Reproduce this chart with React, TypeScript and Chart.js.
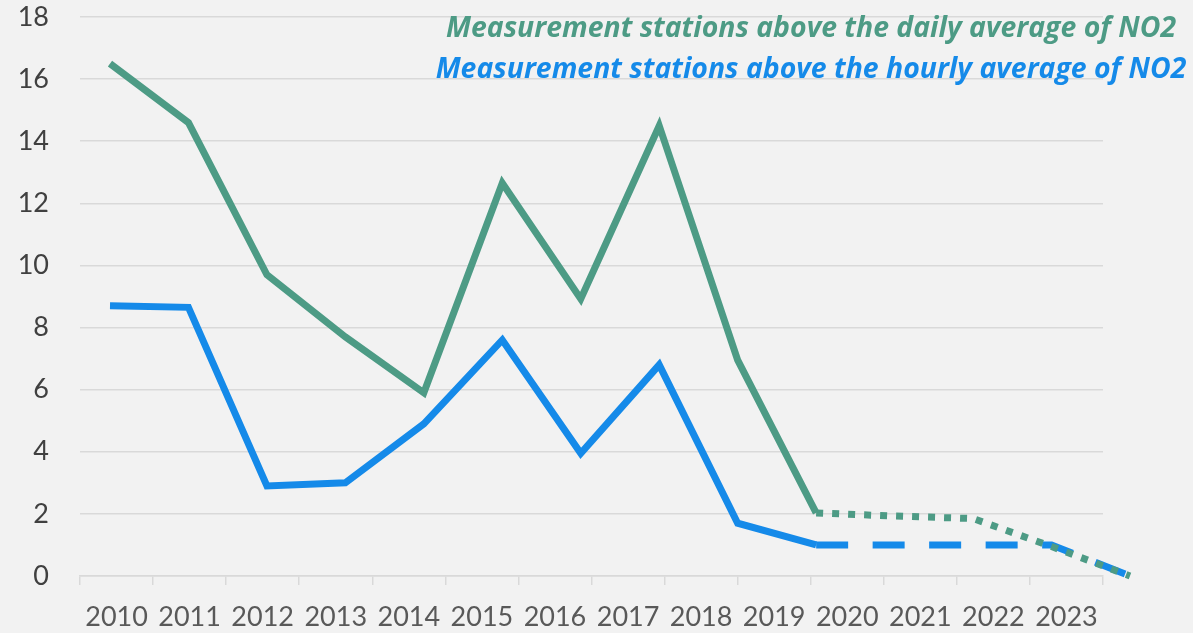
import React, { useEffect, useRef } from "react";
import { Chart, registerables } from "chart.js";

Chart.register(...registerables);

const years = ["2010", "2011", "2012", "2013", "2014", "2015", "2016", "2017", "2018", "2019", "2020", "2021", "2022", "2023"];
const dailyAbove = [16.5, 14.6, 9.7, 7.7, 5.9, 12.65, 8.92, 14.5, 6.95, 2.03, 1.93, 1.85, 0.95, 0];
const hourlyAbove = [8.7, 8.65, 2.9, 3.0, 4.9, 7.6, 3.95, 6.8, 1.7, 1.0, 1.0, 1.0, 1.0, 0];
const yTickMax = 18;
const yTickStep = 2;
const dailyLabel = "Measurement stations above the daily average of NO2";
const hourlyLabel = "Measurement stations above the hourly average of NO2";
const lastMeasuredIndex = 9;

const GREEN = "#4D9B85";
const BLUE = "#158AE9";
const GRID = "#D9D9D9";

const titlePlugin = {
  id: "overlayTitles",
  afterDraw(chart: any) {
    const ctx = chart.ctx;
    ctx.save();
    ctx.textAlign = "center";
    ctx.textBaseline = "alphabetic";
    ctx.font = "italic bold 28.4px 'Open Sans'";
    ctx.fillStyle = GREEN;
    ctx.fillText(dailyLabel, 811, 37);
    ctx.fillStyle = BLUE;
    ctx.fillText(hourlyLabel, 811, 78);
    ctx.restore();
  },
};

export default function App() {
  const ref = useRef<HTMLCanvasElement | null>(null);

  useEffect(() => {
    if (!ref.current) return;
    const chart = new Chart(ref.current, {
      type: "line",
      data: {
        labels: years,
        datasets: [
          {
            label: dailyLabel,
            data: dailyAbove.map((v, i) => ({ x: i, y: v })),
            xAxisID: "xd",
            borderColor: GREEN,
            backgroundColor: GREEN,
            borderWidth: 7,
            pointRadius: 0,
            tension: 0,
            borderCapStyle: "butt",
            borderJoinStyle: "miter",
            clip: false,
            segment: {
              borderDash: (c: any) => (c.p0DataIndex >= lastMeasuredIndex ? [7, 9] : undefined),
            },
          } as any,
          {
            label: hourlyLabel,
            data: hourlyAbove.map((v, i) => ({ x: i, y: v })),
            xAxisID: "xd",
            borderColor: BLUE,
            backgroundColor: BLUE,
            borderWidth: 7,
            pointRadius: 0,
            tension: 0,
            borderCapStyle: "butt",
            borderJoinStyle: "miter",
            clip: false,
            segment: {
              borderDash: (c: any) => (c.p0DataIndex >= lastMeasuredIndex ? [32, 24.5] : undefined),
            },
          } as any,
        ],
      },
      options: {
        animation: false,
        responsive: false,
        maintainAspectRatio: false,
        layout: { padding: { top: 17, left: 0, right: 90, bottom: 0 } },
        plugins: {
          legend: { display: false },
          tooltip: { enabled: false },
          title: { display: false },
        },
        scales: {
          x: {
            type: "category",
            offset: true,
            position: "bottom",
            grid: {
              offset: true,
              drawOnChartArea: false,
              drawTicks: true,
              tickLength: 9,
              color: GRID,
              lineWidth: 1.5,
            },
            border: { display: true, color: GRID, width: 1.5 },
            ticks: {
              color: "#595959",
              font: { family: "Lato", size: 27 },
              padding: 16,
              maxRotation: 0,
              autoSkip: false,
            },
            afterFit: (s: any) => {
              s.height = 57;
              s.paddingLeft = 0;
              s.paddingRight = 0;
            },
          },
          xd: {
            type: "linear",
            display: false,
            min: -30 / 78.46,
            max: -30 / 78.46 + 1023 / 78.46,
          },
          y: {
            type: "linear",
            min: 0,
            max: yTickMax,
            ticks: {
              stepSize: yTickStep,
              color: "#404040",
              font: { family: "Lato", size: 27 },
              padding: 31,
            },
            grid: { color: GRID, lineWidth: 1.5, drawTicks: false },
            border: { display: false },
            afterFit: (s: any) => {
              s.width = 80;
              s.paddingTop = 0;
              s.paddingBottom = 0;
            },
          },
        },
      } as any,
      plugins: [titlePlugin],
    });
    return () => chart.destroy();
  }, []);

  return (
    <div style={{ position: "fixed", left: 0, top: 0, width: 1193, height: 633, background: "#F2F2F2" }}>
      <canvas ref={ref} width={1193} height={633} style={{ display: "block", width: 1193, height: 633 }} />
    </div>
  );
}
